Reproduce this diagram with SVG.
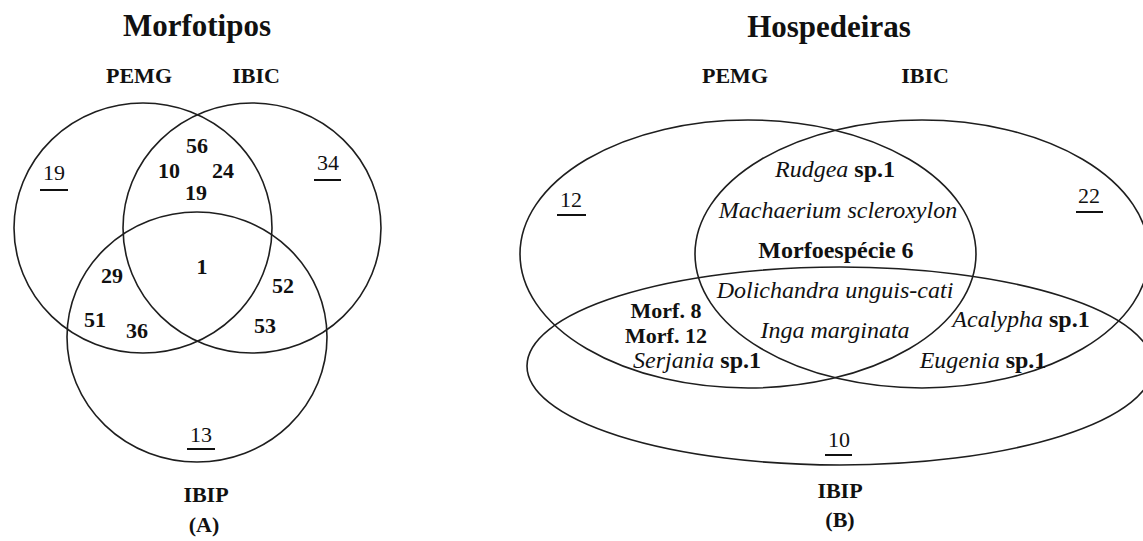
<svg xmlns="http://www.w3.org/2000/svg" width="1143" height="541" viewBox="0 0 1143 541">
<style>
  .set { fill: none; stroke: #1e1e1e; stroke-width: 1.6; }
  .t { font-family: "Liberation Serif", "Times New Roman", serif; fill: #111; text-anchor: middle; }
  .title { font-size: 31px; font-weight: bold; }
  .lab { font-size: 22px; font-weight: bold; }
  .num { font-size: 22px; font-weight: bold; }
  .uni { font-size: 22px; }
  .sp { font-size: 24px; }
  .morf { font-size: 22px; font-weight: bold; }
  .b { font-weight: bold; }
  .i { font-style: italic; }
  .ul { stroke: #111; stroke-width: 2; }
</style>
<rect x="0" y="0" width="1143" height="541" fill="#ffffff"/>

<!-- Panel A: Morfotipos -->
<g id="panelA">
  <text class="t title" x="197" y="36">Morfotipos</text>
  <g id="A-PEMG">
    <ellipse class="set" cx="143" cy="228" rx="129" ry="125"/>
    <text class="t lab" x="139" y="83">PEMG</text>
  </g>
  <g id="A-IBIC">
    <ellipse class="set" cx="252" cy="228" rx="129" ry="125"/>
    <text class="t lab" x="256" y="83">IBIC</text>
  </g>
  <g id="A-IBIP">
    <ellipse class="set" cx="197" cy="337" rx="130" ry="125"/>
    <text class="t lab" x="206" y="502">IBIP</text>
    <text class="t lab" x="204" y="532">(A)</text>
  </g>
  <g id="A-values">
    <text class="t uni" x="54" y="180">19</text>
    <line class="ul" x1="40" y1="190" x2="68" y2="190"/>
    <text class="t uni" x="328" y="170">34</text>
    <line class="ul" x1="314" y1="180" x2="341" y2="180"/>
    <text class="t uni" x="201" y="442">13</text>
    <line class="ul" x1="187" y1="449" x2="215" y2="449"/>
    <text class="t num" x="197" y="153">56</text>
    <text class="t num" x="169" y="178">10</text>
    <text class="t num" x="223" y="178">24</text>
    <text class="t num" x="196" y="200">19</text>
    <text class="t num" x="112" y="283">29</text>
    <text class="t num" x="202" y="274">1</text>
    <text class="t num" x="283" y="293">52</text>
    <text class="t num" x="95" y="327">51</text>
    <text class="t num" x="137" y="338">36</text>
    <text class="t num" x="265" y="333">53</text>
  </g>
</g>

<!-- Panel B: Hospedeiras -->
<g id="panelB">
  <text class="t title" x="829" y="37">Hospedeiras</text>
  <g id="B-PEMG">
    <ellipse class="set" cx="748" cy="254" rx="228" ry="134"/>
    <text class="t lab" x="735" y="83">PEMG</text>
  </g>
  <g id="B-IBIC">
    <ellipse class="set" cx="922" cy="254" rx="227" ry="134"/>
    <text class="t lab" x="925" y="83">IBIC</text>
  </g>
  <g id="B-IBIP">
    <ellipse class="set" cx="840" cy="366" rx="313" ry="99"/>
    <text class="t lab" x="840" y="498">IBIP</text>
    <text class="t lab" x="840" y="527">(B)</text>
  </g>
  <g id="B-values">
    <text class="t uni" x="571" y="207">12</text>
    <line class="ul" x1="557" y1="215" x2="586" y2="215"/>
    <text class="t uni" x="1089" y="203">22</text>
    <line class="ul" x1="1076" y1="212" x2="1103" y2="212"/>
    <text class="t uni" x="839" y="447">10</text>
    <line class="ul" x1="825" y1="455" x2="852" y2="455"/>

    <text class="t sp" x="835" y="177"><tspan class="i">Rudgea</tspan><tspan class="b"> sp.1</tspan></text>
    <text class="t sp i" x="838" y="218">Machaerium scleroxylon</text>
    <text class="t sp b" x="836" y="258">Morfoespécie 6</text>
    <text class="t sp i" x="835" y="298">Dolichandra unguis-cati</text>
    <text class="t sp i" x="835" y="338">Inga marginata</text>
    <text class="t morf" x="666" y="318">Morf. 8</text>
    <text class="t morf" x="666" y="343">Morf. 12</text>
    <text class="t sp" x="697" y="368"><tspan class="i">Serjania</tspan><tspan class="b"> sp.1</tspan></text>
    <text class="t sp" x="1021" y="327"><tspan class="i">Acalypha</tspan><tspan class="b"> sp.1</tspan></text>
    <text class="t sp" x="983" y="368"><tspan class="i">Eugenia</tspan><tspan class="b"> sp.1</tspan></text>
  </g>
</g>

<g id="connectors"/>
</svg>
